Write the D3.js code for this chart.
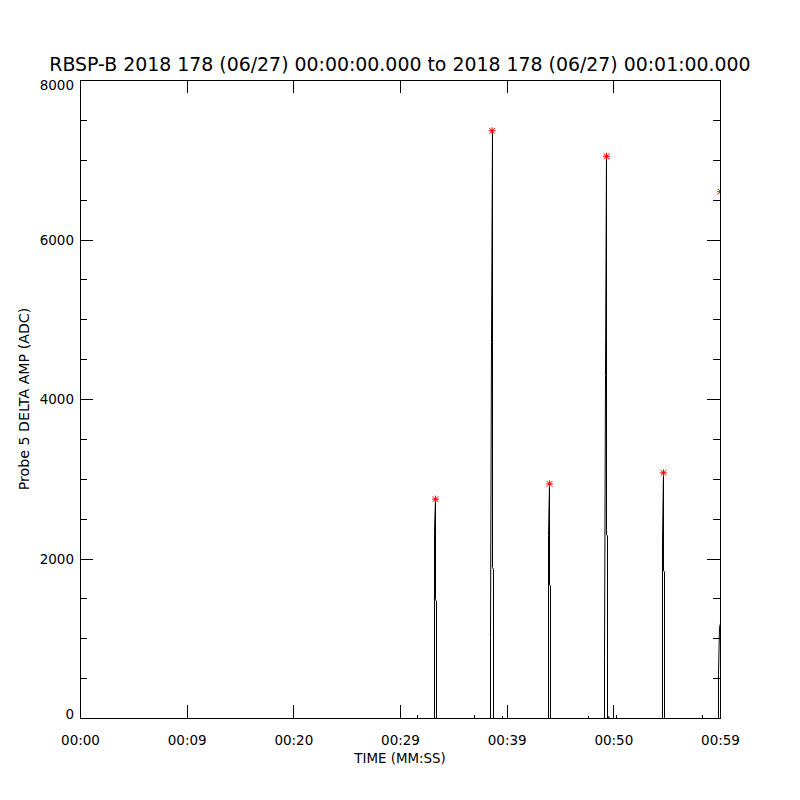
<!DOCTYPE html>
<html>
<head>
<meta charset="utf-8">
<script src="https://cdn.jsdelivr.net/npm/d3@7"></script>
<style>
  body { margin: 0; background: #fff; }
  svg { display: block; }
  text { font-family: "DejaVu Sans", sans-serif; fill: #000; }
  .axis path.domain { display: none; }
  .axis line { stroke: #000; stroke-width: 1; shape-rendering: crispEdges; }
</style>
</head>
<body>
<svg id="chart" width="800" height="800"></svg>
<script>
// samples: seconds since 00:00:00 and probe 5 delta amplitude (ADC)
const sampleTimes = [
    0, 31.641, 31.641, 31.641,
    33.234, 33.234, 33.328, 33.328, 33.422, 33.422,
    36.984, 36.984, 36.984,
    38.484, 38.484, 38.578, 38.672, 38.672, 38.766, 38.766,
    39.609, 39.609, 39.609,
    43.922, 43.922, 44.016, 44.016, 44.109, 44.109,
    47.672, 47.672, 47.672,
    49.172, 49.172, 49.266, 49.359, 49.359, 49.453, 49.453, 49.547, 49.641,
    50.297, 50.297, 50.297,
    54.609, 54.609, 54.703, 54.703, 54.797, 54.797,
    58.359, 58.359, 58.359,
    59.859, 59.859, 59.953, 60.056, 60.056, 60.150
];
const sampleValues = [
    0, 0, 40, 0,
    0, 2345, 2750, 1490, 1470, 0,
    0, 40, 0,
    0, 1016, 4715, 7370, 1893, 1870, 0,
    0, 30, 0,
    0, 2295, 2942, 1680, 1660, 0,
    0, 30, 0,
    0, 765, 4300, 7050, 2307, 2290, 0, 25, 0,
    0, 40, 0,
    0, 2207, 3080, 1856, 1836, 0,
    0, 40, 0,
    0, 552, 1141, 1200, 6605, 0
];
// peak markers (red asterisks)
const peakTimes = [33.328, 38.630, 44.016, 49.359, 54.703, 60.056];
const peakValues = [2750, 7370, 2942, 7050, 3080, 6605];

const xTickValues = [0, 10, 20, 30, 40, 50, 60];
const xTickLabels = ["00:00", "00:09", "00:20", "00:29", "00:39", "00:50", "00:59"];
const yMajorTicks = [0, 2000, 4000, 6000, 8000];
const yMinorTicks = d3.range(0, 8001, 500).filter(v => v % 2000 !== 0);

const titleText = "RBSP-B 2018 178 (06/27) 00:00:00.000 to 2018 178 (06/27) 00:01:00.000";
const xLabelText = "TIME (MM:SS)";
const yLabelText = "Probe 5 DELTA AMP (ADC)";

const svg = d3.select("#chart");
const margin = {top: 80, right: 80, bottom: 82, left: 80};
const W = 800, H = 800;

const x = d3.scaleLinear().domain([0, 60]).range([margin.left, W - margin.right]);
const y = d3.scaleLinear().domain([0, 8000]).range([H - margin.bottom, margin.top]);

svg.append("defs").append("clipPath").attr("id", "plotclip")
    .append("rect")
    .attr("x", x(0)).attr("y", y(8000))
    .attr("width", x(60) - x(0)).attr("height", y(0) - y(8000) + 1);

// data line (half-pixel shift so the zero level sits on the axis row)
const plot = svg.append("g").attr("clip-path", "url(#plotclip)");
const inner = plot.append("g").attr("transform", "translate(0,0.5)");
const data = sampleTimes.map((t, i) => ({t, v: sampleValues[i]}));
inner.append("path")
    .datum(data)
    .attr("fill", "none")
    .attr("stroke", "#000")
    .attr("stroke-width", 1)
    .attr("d", d3.line().x(d => x(d.t)).y(d => y(d.v)));

// peak asterisks
const star = inner.selectAll("g.star")
    .data(peakTimes.map((t, i) => ({t, v: peakValues[i]})))
    .join("g")
    .attr("class", "star")
    .attr("transform", d => `translate(${x(d.t)},${y(d.v)})`)
    .attr("stroke", "#ff0000")
    .attr("stroke-width", 1);
const r = 3.5;
star.append("line").attr("x1", -r).attr("x2", r).attr("y1", 0).attr("y2", 0);
star.append("line").attr("x1", 0).attr("x2", 0).attr("y1", -r).attr("y2", r);
star.append("line").attr("x1", -r * 0.8).attr("x2", r * 0.8).attr("y1", -r * 0.8).attr("y2", r * 0.8);
star.append("line").attr("x1", -r * 0.8).attr("x2", r * 0.8).attr("y1", r * 0.8).attr("y2", -r * 0.8);
star.append("circle").attr("r", 1.2).attr("fill", "#ff0000").attr("stroke", "none");

// frame
svg.append("rect")
    .attr("x", x(0) + 0.5).attr("y", y(8000) + 0.5)
    .attr("width", x(60) - x(0)).attr("height", y(0) - y(8000))
    .attr("fill", "none").attr("stroke", "#000").attr("stroke-width", 1);

// bottom axis with labels
const xb = svg.append("g").attr("class", "axis")
    .attr("transform", `translate(0,${y(0)})`)
    .call(d3.axisBottom(x).tickValues(xTickValues)
        .tickFormat((d, i) => xTickLabels[i])
        .tickSizeInner(-13).tickSizeOuter(0).tickPadding(17));
xb.selectAll("text").attr("font-size", 13.5);

// top axis, ticks only
svg.append("g").attr("class", "axis")
    .attr("transform", `translate(0,${y(8000)})`)
    .call(d3.axisTop(x).tickValues(xTickValues).tickFormat("")
        .tickSizeInner(-13).tickSizeOuter(0));

// left axis
const yl = svg.append("g").attr("class", "axis")
    .attr("transform", `translate(${x(0)},0)`)
    .call(d3.axisLeft(y).tickValues(yMajorTicks).tickFormat(d3.format("d"))
        .tickSizeInner(-13).tickSizeOuter(0).tickPadding(6));
yl.selectAll("text").attr("font-size", 13.5)
    .attr("dy", d => d === 8000 ? "0.72em" : d === 0 ? "0.05em" : "0.36em");
svg.append("g").attr("class", "axis")
    .attr("transform", `translate(${x(0)},0)`)
    .call(d3.axisLeft(y).tickValues(yMinorTicks).tickFormat("")
        .tickSizeInner(-7).tickSizeOuter(0));

// right axis, ticks only
svg.append("g").attr("class", "axis")
    .attr("transform", `translate(${x(60)},0)`)
    .call(d3.axisRight(y).tickValues(yMajorTicks).tickFormat("")
        .tickSizeInner(-13).tickSizeOuter(0));
svg.append("g").attr("class", "axis")
    .attr("transform", `translate(${x(60)},0)`)
    .call(d3.axisRight(y).tickValues(yMinorTicks).tickFormat("")
        .tickSizeInner(-7).tickSizeOuter(0));

// title and axis labels
svg.append("text")
    .attr("x", 400).attr("y", 71)
    .attr("text-anchor", "middle")
    .attr("font-size", 18.9)
    .text(titleText);

svg.append("text")
    .attr("x", 400).attr("y", 763)
    .attr("text-anchor", "middle")
    .attr("font-size", 13.4)
    .text(xLabelText);

svg.append("text")
    .attr("transform", "translate(29,399) rotate(-90)")
    .attr("text-anchor", "middle")
    .attr("font-size", 14.2)
    .text(yLabelText);
</script>
</body>
</html>
